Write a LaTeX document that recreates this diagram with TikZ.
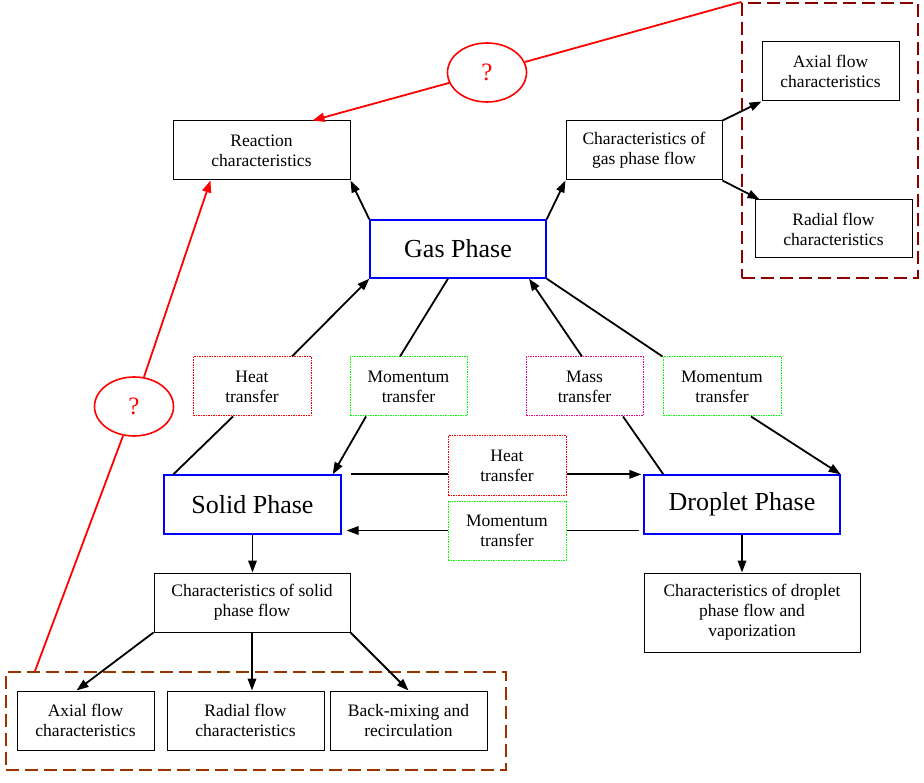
\documentclass[tikz,border=0pt]{standalone}
\usepackage{fontspec}
\setmainfont{Liberation Serif}
\usetikzlibrary{arrows.meta,shapes.geometric,calc}
\definecolor{darkred}{RGB}{139,0,0}
\definecolor{brownred}{RGB}{153,51,0}
\begin{document}
\begin{tikzpicture}[x=1pt,y=-1pt,
  small/.style={font=\fontsize{17.5}{20}\selectfont},
  box/.style={small,draw=black,line width=1pt,rectangle,inner sep=0pt,align=center},
  phase/.style={draw=blue,line width=1.3pt,rectangle,inner sep=0pt,align=center,font=\fontsize{26}{30}\selectfont},
  xfer/.style={small,rectangle,inner sep=0pt,align=center,line width=1pt,dash pattern=on 1.5pt off 1pt,minimum width=118pt,minimum height=59pt},
  group/.style={rectangle,line width=2pt,dash pattern=on 13pt off 6pt},
  conn/.style={line width=1.8pt},
  arr/.style={conn,-{Triangle[length=12pt,width=8.5pt]}},
  redl/.style={red,line width=1.8pt},
  redarr/.style={redl,-{Triangle[length=12pt,width=9pt]}},
  qmark/.style={font=\fontsize{25}{28}\selectfont,ellipse,draw=red,line width=1.6pt,text=red,minimum width=79pt,minimum height=59pt,inner sep=0pt}
]
\useasboundingbox (0,0) rectangle (924,783);

% groups
\node[group,draw=darkred,minimum width=176pt,minimum height=275pt] (gbox) at (830,140.5) {};
\node[group,draw=brownred,minimum width=500pt,minimum height=98pt] (sbox) at (256,721) {};

% main nodes
\node[box,minimum width=177pt,minimum height=59pt] (reaction) at (261.5,150.5) {Reaction\\characteristics};
\node[box,minimum width=156pt,minimum height=59pt] (gflow) at (644,150.5) {Characteristics of\\gas phase flow};
\node[box,minimum width=137pt,minimum height=59pt] (gaxial) at (830.5,71.5) {Axial flow\\characteristics};
\node[box,minimum width=157pt,minimum height=58pt] (gradial) at (833.5,229) {Radial flow\\characteristics};
\node[phase,minimum width=176pt,minimum height=58pt] (gas) at (458,249) {Gas Phase\rule{0pt}{14pt}};
\node[phase,minimum width=177pt,minimum height=59pt] (solid) at (252.5,504.5) {Solid Phase\rule{0pt}{14pt}};
\node[phase,minimum width=196pt,minimum height=59pt] (drop) at (742,504.5) {Droplet Phase\rule{0pt}{14pt}};
\node[box,minimum width=196pt,minimum height=59pt] (sflow) at (252,602.5) {Characteristics of solid\\phase flow};
\node[box,minimum width=216pt,minimum height=79pt] (dflow) at (752,612.5) {Characteristics of droplet\\phase flow and\\vaporization};
\node[box,minimum width=137pt,minimum height=59pt] (saxial) at (85.5,720.5) {Axial flow\\characteristics};
\node[box,minimum width=157pt,minimum height=59pt] (sradial) at (245.5,720.5) {Radial flow\\characteristics};
\node[box,minimum width=157pt,minimum height=59pt] (sback) at (408.5,720.5) {Back-mixing and\\recirculation};

% transfer labels
\node[xfer,draw=red] (heatL) at (252,386.5) {Heat\\transfer};
\node[xfer,draw=green,minimum width=117pt] (momL) at (408.5,386.5) {Momentum\\transfer};
\node[xfer,draw=magenta,minimum width=117pt] (mass) at (584.5,386.5) {Mass\\transfer};
\node[xfer,draw=green] (momR) at (722,386.5) {Momentum\\transfer};
\node[xfer,draw=red] (heatM) at (507,465.5) {Heat\\transfer};
\node[xfer,draw=green] (momM) at (507,530.5) {Momentum\\transfer};

% question marks
\node[qmark] (q1) at (487,72.5) {?};
\node[qmark] (q2) at (134,406.5) {?};

% gas phase outputs
\draw[arr] (gas.north west) -- (reaction.south east);
\draw[arr] (gas.north east) -- (gflow.south west);
\draw[arr] (gflow.north east) -- (gaxial.south west);
\draw[arr] (gflow.south east) -- ([xshift=5pt]gradial.north west);

% heat transfer solid -> gas
\draw[conn] ([xshift=10pt]solid.north west) -- ([xshift=-19pt]heatL.south);
\draw[arr] ([xshift=40pt]heatL.north) -- (gas.south west);
% momentum gas -> solid
\draw[conn] ([xshift=-10pt]gas.south) -- ([xshift=-8.5pt]momL.north);
\draw[arr] ([xshift=-42.5pt]momL.south) -- ([xshift=-9pt]solid.north east);
% mass droplet -> gas
\draw[conn] ([xshift=20pt]drop.north west) -- ([xshift=38.5pt]mass.south);
\draw[arr] ([xshift=-2.5pt]mass.north) -- ([xshift=71pt]gas.south);
% momentum gas -> droplet
\draw[conn] (gas.south east) -- (momR.north west);
\draw[arr] ([xshift=29pt]momR.south) -- (drop.north east);
% heat solid -> droplet
\draw[conn] ([xshift=9pt]solid.north east) -- (heatM.west |- solid.north east);
\draw[arr] (heatM.east |- solid.north east) -- ([xshift=-2pt]drop.north west);
% momentum droplet -> solid
\draw[conn] ([xshift=-4pt]drop.west |- momM.east) -- (momM.east);
\draw[arr] (momM.west) -- ([xshift=5pt]solid.east |- momM.west);

% downward flows
\draw[arr] (solid.south) -- (solid.south |- sflow.north);
\draw[arr] (drop.south) -- (drop.south |- dflow.north);
\draw[arr] (sflow.south west) -- ([xshift=-9pt]saxial.north);
\draw[arr] (sflow.south) -- (sflow.south |- sradial.north);
\draw[arr] (sflow.south east) -- (sback.north);

% red question links
\draw[redl] (gbox.north west) -- (q1);
\draw[redarr] (q1) -- ([xshift=51pt]reaction.north);
\draw[redl] ([xshift=30pt]sbox.north west) -- (q2);
\draw[redarr] (q2) -- ([xshift=-51pt]reaction.south);
\end{tikzpicture}
\end{document}
